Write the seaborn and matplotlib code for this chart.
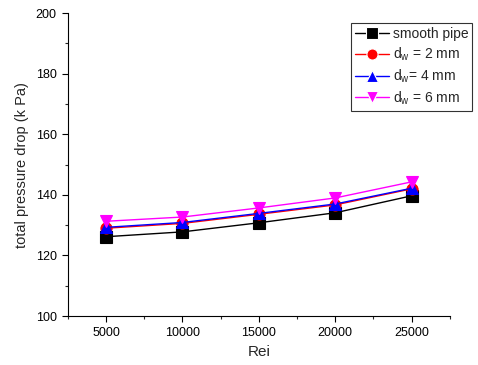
import matplotlib
matplotlib.use("Agg")
import matplotlib.pyplot as plt
from matplotlib.ticker import MultipleLocator
import seaborn as sns
import pandas as pd

rei = [5000, 10000, 15000, 20000, 25000]
smooth_pipe = [126.2, 127.8, 130.8, 134.1, 139.7]
dw_2mm = [129.0, 130.6, 133.6, 136.7, 142.0]
dw_4mm = [129.3, 130.9, 133.9, 137.0, 142.2]
dw_6mm = [131.3, 132.7, 135.7, 139.0, 144.3]

labels = ["smooth pipe", r"d$_\mathregular{w}$ = 2 mm",
          r"d$_\mathregular{w}$= 4 mm", r"d$_\mathregular{w}$ = 6 mm"]
series = [smooth_pipe, dw_2mm, dw_4mm, dw_6mm]
colors = ["#000000", "#ff0000", "#0000ff", "#ff00ff"]
marker_styles = ["s", "o", "^", "v"]

df = pd.DataFrame({
    "Rei": rei * len(series),
    "dp": [v for s in series for v in s],
    "case": [lab for lab in labels for _ in rei],
})

sns.set_style("ticks")
plt.rcParams["font.family"] = ["Liberation Sans", "DejaVu Sans"]
plt.rcParams["mathtext.fontset"] = "custom"
plt.rcParams["mathtext.rm"] = "Liberation Sans"

fig = plt.figure(figsize=(4.78, 3.65), dpi=100)
ax = fig.add_axes([0.142, 0.134, 0.799, 0.830])

sns.lineplot(data=df, x="Rei", y="dp", hue="case", style="case",
             hue_order=labels, style_order=labels,
             palette=dict(zip(labels, colors)),
             markers=dict(zip(labels, marker_styles)),
             dashes=False, markersize=8, markeredgewidth=0.8,
             linewidth=1.0, ax=ax, legend=True)

for line, c in zip(ax.lines, colors):
    line.set_markeredgecolor(c)

ax.set_xlim(2500, 27500)
ax.set_ylim(100, 200)
ax.xaxis.set_major_locator(MultipleLocator(5000))
ax.xaxis.set_minor_locator(MultipleLocator(2500))
ax.yaxis.set_major_locator(MultipleLocator(20))
ax.yaxis.set_minor_locator(MultipleLocator(10))
ax.tick_params(which="major", direction="out", length=4, width=0.8,
               labelsize=9, colors="black", pad=4)
ax.tick_params(which="minor", direction="out", length=2.5, width=0.8)
ax.set_xlabel("Rei", fontsize=11, labelpad=4)
ax.set_ylabel("total pressure drop (k Pa)", fontsize=10.5, labelpad=5)
for side in ["top", "right"]:
    ax.spines[side].set_visible(False)
for side in ["left", "bottom"]:
    ax.spines[side].set_linewidth(0.8)
    ax.spines[side].set_color("black")

handles, labs = ax.get_legend_handles_labels()
leg = ax.legend(handles, labs, loc="upper left",
                bbox_to_anchor=(351 / 478, 1 - 23 / 365),
                bbox_transform=fig.transFigure,
                frameon=True, fancybox=False, fontsize=10,
                handlelength=2.4, handletextpad=0.3, borderpad=0.3,
                labelspacing=0.32, borderaxespad=0)
leg.get_frame().set_edgecolor("black")
leg.get_frame().set_linewidth(0.8)

fig.savefig("out.png", dpi=100)
